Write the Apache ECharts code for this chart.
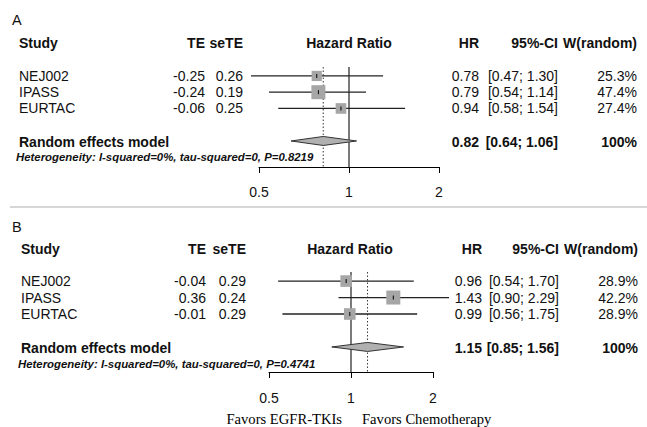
<!DOCTYPE html>
<html><head><meta charset="utf-8">
<script src="https://cdn.jsdelivr.net/npm/echarts@6/dist/echarts.min.js"></script>
<style>html,body{margin:0;padding:0;background:#fff}#c{width:647px;height:427px}</style>
</head><body><div id="c"></div>
<script>
// ---------- data ----------
const panelLabels = ['A', 'B'];
const studies = ['NEJ002', 'IPASS', 'EURTAC'];
const headers = ['Study', 'TE', 'seTE', 'Hazard Ratio', 'HR', '95%-CI', 'W(random)'];
const summaryLabel = 'Random effects model';
const summaryWeight = '100%';
const ticks = [0.5, 1, 2];
const favors = ['Favors EGFR-TKIs', 'Favors Chemotherapy'];

// Panel A
const teA = [-0.25, -0.24, -0.06];
const seteA = [0.26, 0.19, 0.25];
const hrA = [0.78, 0.79, 0.94];
const loA = [0.47, 0.54, 0.58];
const hiA = [1.30, 1.14, 1.54];
const weightA = [25.3, 47.4, 27.4];
const summaryA = [0.82, 0.64, 1.06]; // HR, lower, upper
const hetA = 'Heterogeneity: I-squared=0%, tau-squared=0, P=0.8219';

// Panel B
const teB = [-0.04, 0.36, -0.01];
const seteB = [0.29, 0.24, 0.29];
const hrB = [0.96, 1.43, 0.99];
const loB = [0.54, 0.90, 0.56];
const hiB = [1.70, 2.29, 1.75];
const weightB = [28.9, 42.2, 28.9];
const summaryB = [1.15, 0.85, 1.56];
const hetB = 'Heterogeneity: I-squared=0%, tau-squared=0, P=0.4741';

// ---------- layout ----------
const panels = [
  {te: teA, se: seteA, hr: hrA, lo: loA, hi: hiA, w: weightA, sum: summaryA, het: hetA},
  {te: teB, se: seteB, hr: hrB, lo: loB, hi: hiB, w: weightB, sum: summaryB, het: hetB}
];
const layout = [
  {grid: {left: 259, top: 67, width: 180, height: 100}, yMax: 6.6, labelY: 20, headY: 43, hetY: 157,
   xName: 19, xTE: 205, xSe: 243, xHRc: 349, xHR: 479, xCI: 558, xW: 637, xHet: 16, margin: 18},
  {grid: {left: 269, top: 272, width: 164, height: 100}, yMax: 6.52, labelY: 227, headY: 249, hetY: 364,
   xName: 21, xTE: 206, xSe: 246, xHRc: 350, xHR: 482, xCI: 559, xW: 638, xHet: 18, margin: 19}
];
const Y0 = 0.45;
const SUMROW = 5;
const FAM = '"Liberation Sans", Arial, sans-serif';
const FS = 14;
const INK = '#111';

const chart = echarts.init(document.getElementById('c'), null, {renderer: 'svg'});

function studySeries(k) {
  const P = panels[k];
  const wmax = Math.max.apply(null, P.w);
  return {
    type: 'custom', xAxisIndex: k, yAxisIndex: k, clip: false, z: 3,
    data: P.hr.map((h, i) => [h, i + 1, P.lo[i], P.hi[i], P.w[i]]),
    encode: {x: [0, 2, 3], y: 1},
    renderItem: (params, api) => {
      const h = api.value(0), r = api.value(1), lo = api.value(2), hi = api.value(3), w = api.value(4);
      const c = api.coord([h, r]), a = api.coord([lo, r]), b = api.coord([hi, r]);
      const s = 14 * Math.sqrt(w / wmax);
      return {type: 'group', children: [
        {type: 'line', shape: {x1: a[0], y1: a[1], x2: b[0], y2: b[1]}, style: {stroke: '#222', lineWidth: 1.3}},
        {type: 'rect', shape: {x: c[0] - s / 2, y: c[1] - s / 2, width: s, height: s}, style: {fill: '#a6a6a6'}},
        {type: 'line', shape: {x1: c[0], y1: c[1] - 2, x2: c[0], y2: c[1] + 2}, style: {stroke: '#000', lineWidth: 1}}
      ]};
    }
  };
}

function summarySeries(k) {
  const P = panels[k], Lk = layout[k];
  return {
    type: 'custom', xAxisIndex: k, yAxisIndex: k, clip: false, z: 2,
    data: [[P.sum[0], SUMROW, P.sum[1], P.sum[2]]],
    encode: {x: [0, 2, 3], y: 1},
    renderItem: (params, api) => {
      const e = api.value(0), r = api.value(1), lo = api.value(2), hi = api.value(3);
      const c = api.coord([e, r]), a = api.coord([lo, r]), b = api.coord([hi, r]);
      const t1 = api.coord([1, Y0]), b1 = api.coord([1, Lk.yMax]);
      const td = api.coord([e, Y0]), bd = api.coord([e, Lk.yMax]);
      const hh = 4.5;
      return {type: 'group', children: [
        {type: 'line', shape: {x1: td[0], y1: td[1], x2: bd[0], y2: bd[1]}, style: {stroke: '#333', lineWidth: 1, lineDash: [1.5, 2]}},
        {type: 'line', shape: {x1: t1[0], y1: t1[1], x2: b1[0], y2: b1[1]}, style: {stroke: '#222', lineWidth: 1.2}},
        {type: 'polygon', shape: {points: [[a[0], c[1]], [c[0], c[1] - hh], [b[0], c[1]], [c[0], c[1] + hh]]},
         style: {fill: '#b0b0b0', stroke: '#333', lineWidth: 1}}
      ]};
    }
  };
}

function xAxis(k) {
  return {
    type: 'log', logBase: 2, gridIndex: k, min: ticks[0], max: ticks[ticks.length - 1],
    axisLine: {show: true, onZero: false, lineStyle: {color: '#000', width: 1}},
    axisTick: {show: true, length: 6, lineStyle: {color: '#000', width: 1}},
    minorTick: {show: false},
    splitLine: {show: false},
    axisLabel: {margin: layout[k].margin, fontSize: FS, fontFamily: FAM, color: INK,
      formatter: v => String(+(+v).toFixed(2))}
  };
}
function yAxis(k) {
  return {type: 'value', gridIndex: k, inverse: true, min: Y0, max: layout[k].yMax, show: false};
}

chart.setOption({
  animation: false,
  backgroundColor: '#fff',
  grid: layout.map(l => Object.assign({containLabel: false}, l.grid)),
  xAxis: [xAxis(0), xAxis(1)],
  yAxis: [yAxis(0), yAxis(1)],
  series: [summarySeries(0), studySeries(0), summarySeries(1), studySeries(1)]
});

// ---------- texts ----------
function txt(x, y, text, font, align, fam, color) {
  return {type: 'text', x: x, y: y, silent: true,
    style: {text: text, fill: color || INK, font: font + ' ' + (fam || FAM), textAlign: align || 'left', textVerticalAlign: 'middle'}};
}
const reg = FS + 'px', bold = 'bold ' + FS + 'px';
const SERIF = '"Liberation Serif", "Times New Roman", serif';
const els = [];
els.push({type: 'line', silent: true, shape: {x1: 10, y1: 207, x2: 647, y2: 207}, style: {stroke: '#c8c8c8', lineWidth: 1.5}});
layout.forEach((Lk, k) => {
  const P = panels[k];
  els.push(txt(12, Lk.labelY, panelLabels[k], '14.5px'));
  els.push(txt(Lk.xName, Lk.headY, headers[0], bold));
  els.push(txt(Lk.xTE, Lk.headY, headers[1], bold, 'right'));
  els.push(txt(Lk.xSe, Lk.headY, headers[2], bold, 'right'));
  els.push(txt(Lk.xHRc, Lk.headY, headers[3], bold, 'center'));
  els.push(txt(Lk.xHR, Lk.headY, headers[4], bold, 'right'));
  els.push(txt(Lk.xCI, Lk.headY, headers[5], bold, 'right'));
  els.push(txt(Lk.xW, Lk.headY, headers[6], bold, 'right'));
  studies.forEach((s, i) => {
    const y = chart.convertToPixel({gridIndex: k}, [1, i + 1])[1];
    els.push(txt(Lk.xName, y, s, reg));
    els.push(txt(Lk.xTE, y, P.te[i].toFixed(2), reg, 'right'));
    els.push(txt(Lk.xSe, y, P.se[i].toFixed(2), reg, 'right'));
    els.push(txt(Lk.xHR, y, P.hr[i].toFixed(2), reg, 'right'));
    els.push(txt(Lk.xCI, y, '[' + P.lo[i].toFixed(2) + '; ' + P.hi[i].toFixed(2) + ']', reg, 'right'));
    els.push(txt(Lk.xW, y, P.w[i].toFixed(1) + '%', reg, 'right'));
  });
  const ys = chart.convertToPixel({gridIndex: k}, [1, SUMROW])[1] + 1;
  els.push(txt(Lk.xName, ys, summaryLabel, bold));
  els.push(txt(Lk.xHR, ys, P.sum[0].toFixed(2), bold, 'right'));
  els.push(txt(Lk.xCI, ys, '[' + P.sum[1].toFixed(2) + '; ' + P.sum[2].toFixed(2) + ']', bold, 'right'));
  els.push(txt(Lk.xW, ys, summaryWeight, bold, 'right'));
  els.push(txt(Lk.xHet, Lk.hetY, P.het, 'italic bold 11.4px'));
});
els.push(txt(342, 419, favors[0], '14.6px', 'right', SERIF, '#000'));
els.push(txt(362, 419, favors[1], '14.6px', 'left', SERIF, '#000'));
chart.setOption({graphic: {elements: els}});
</script>
</body></html>
